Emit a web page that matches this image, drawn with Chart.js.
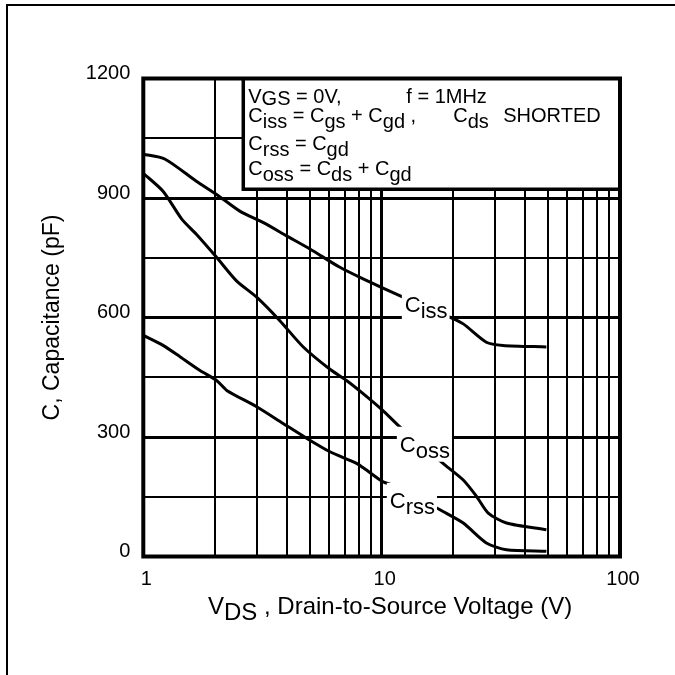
<!DOCTYPE html>
<html><head><meta charset="utf-8">
<script src="https://cdn.jsdelivr.net/npm/chart.js@4"></script>
<style>html,body{margin:0;padding:0;background:#fff}</style>
</head><body>
<canvas id="c" width="675" height="675"></canvas>
<script>
// ---- data ----
const xGridValues = [1,2,3,4,5,6,7,8,9,10,20,30,40,50,60,70,80,90,100];
const xTickLabels = [1,10,100];
const xBoldLines = [10];
const yTickLabels = [0,300,600,900,1200];
const yBoldLines = [300,600,900];
const cissV = [1.0,1.23,1.67,2.03,2.54,3.19,3.99,5.0,6.68,8.36,11.9,19.3,22.0,27.5,32.3,49.1];
const cissC = [1010,998,942,909,867,838,805,772,726,697,655,601,584,538,530,526];
const cossV = [1.0,1.21,1.45,1.67,2.03,2.46,2.99,3.74,4.69,6.07,7.12,8.36,10.1,11.9,18.4,22.0,25.0,28.0,33.4,49.1];
const cossC = [962,917,847,809,751,692,651,592,526,470,442,409,367,326,230,192,151,109,84,67];
const crssV = [1.0,1.21,1.43,1.73,2.03,2.24,2.99,3.86,4.84,6.07,7.85,8.64,10.1,11.55,18.1,22.0,27.5,33.4,49.1];
const crssC = [555,530,501,467,442,417,376,334,297,263,234,217,188,176,113,84,34,17,13];

// ---- annotations (text) ----
const FONT = '"Liberation Sans", Arial, sans-serif';
const curveLabels = [
  {segs:[['C',0],['iss',1]], v:12.51, c:613},
  {segs:[['C',0],['oss',1]], v:11.92, c:263},
  {segs:[['C',0],['rss',1]], v:10.82, c:122}
];
const legendCorner = {v:2.627, c:921.75};
const legendLines = [
  {dy:24, sub:2, segs:[['V',0],['GS',1],[' = 0V,',0],['f = 1MHz',0,158]]},
  {dy:43, sub:6, segs:[['C',0],['iss',1],[' = C',0],['gs',1],[' + C',0],['gd',1],[' ,',0],['C',0,205],['ds',1],['SHORTED',0,255]]},
  {dy:71.5, sub:6, segs:[['C',0],['rss',1],[' = C',0],['gd',1]]},
  {dy:96.5, sub:6, segs:[['C',0],['oss',1],[' = C',0],['ds',1],[' + C',0],['gd',1]]}
];
const xTitleSegs = [['V',0],['DS',1],[' , Drain-to-Source Voltage (V)',0]];

function drawRich(ctx, x, y, segs, subOff){
  let cx = x;
  for (const s of segs){
    if (s[2] != null) cx = x + s[2];
    ctx.fillText(s[0], cx, s[1] ? y + subOff : y);
    cx += ctx.measureText(s[0]).width;
  }
  return cx - x;
}
function richWidth(ctx, segs){
  let w = 0; for (const s of segs) w += ctx.measureText(s[0]).width; return w;
}

const annot = {
  id:'annot',
  afterDatasetsDraw(chart){
    const {ctx, chartArea:a, scales} = chart;
    const xs = scales.x, ys = scales.y;
    ctx.save();
    ctx.textBaseline = 'alphabetic';
    ctx.textAlign = 'left';
    // curve labels with white knock-out
    ctx.font = '22px ' + FONT;
    for (const L of curveLabels){
      const px = xs.getPixelForValue(L.v), py = ys.getPixelForValue(L.c);
      const w = richWidth(ctx, L.segs);
      ctx.fillStyle = '#fff';
      ctx.fillRect(px - 3, py - 25, w + 5, 35);
      ctx.fillStyle = '#000';
      drawRich(ctx, px, py, L.segs, 6);
    }
    // legend box
    const lx = xs.getPixelForValue(legendCorner.v), ly = ys.getPixelForValue(legendCorner.c);
    ctx.fillStyle = '#fff';
    ctx.fillRect(lx, a.top, a.right - lx, ly - a.top);
    ctx.strokeStyle = '#000';
    ctx.lineWidth = 3.5;
    ctx.beginPath(); ctx.moveTo(lx, a.top); ctx.lineTo(lx, ly); ctx.lineTo(a.right, ly); ctx.stroke();
    ctx.fillStyle = '#000';
    ctx.font = '20px ' + FONT;
    for (const line of legendLines){
      drawRich(ctx, lx + 5, a.top + line.dy, line.segs, line.sub);
    }
    // plot frame
    ctx.lineWidth = 4;
    ctx.strokeRect(a.left, a.top, a.right - a.left, a.bottom - a.top);
    // x title
    ctx.font = '24px ' + FONT;
    drawRich(ctx, 208, 614, xTitleSegs, 6);
    // outer page frame
    ctx.lineWidth = 2;
    ctx.beginPath(); ctx.moveTo(7, 675); ctx.lineTo(7, 5); ctx.lineTo(675, 5); ctx.stroke();
    ctx.restore();
  }
};

Chart.defaults.color = '#000';
Chart.defaults.font.family = FONT;

const toPts = (xv, yv) => xv.map((v, i) => ({x: v, y: yv[i]}));
const lineStyle = {borderColor:'#000', borderWidth:3, pointRadius:0, tension:0.25, fill:false};

new Chart(document.getElementById('c'), {
  type:'line',
  data:{datasets:[
    {label:'Ciss', data:toPts(cissV, cissC), ...lineStyle},
    {label:'Coss', data:toPts(cossV, cossC), ...lineStyle},
    {label:'Crss', data:toPts(crssV, crssC), ...lineStyle}
  ]},
  options:{
    responsive:false, animation:false, devicePixelRatio:1,
    layout:{padding:{left:0, top:78.5, right:55, bottom:0}},
    plugins:{legend:{display:false}, tooltip:{enabled:false}},
    scales:{
      x:{
        type:'logarithmic', min:1, max:100,
        afterBuildTicks:(s)=>{ s.ticks = xGridValues.map(v=>({value:v})); },
        afterFit:(s)=>{ s.height = 118.5; },
        ticks:{autoSkip:false, maxRotation:0, padding:11, labelOffset:3,
               font:{size:20}, color:'#000',
               callback:(v)=> xTickLabels.includes(v) ? String(v) : ''},
        grid:{drawTicks:false, color:'#000',
              lineWidth:(c)=> (c.tick && xBoldLines.includes(c.tick.value)) ? 3 : 2},
        border:{display:false}
      },
      y:{
        type:'linear', min:0, max:1200,
        ticks:{stepSize:150, autoSkip:false, padding:13, labelOffset:-5,
               font:{size:20}, color:'#000',
               callback:(v)=> yTickLabels.includes(v) ? String(v) : ''},
        afterFit:(s)=>{ s.width = 143.3; },
        grid:{drawTicks:false, color:'#000',
              lineWidth:(c)=> (c.tick && yBoldLines.includes(c.tick.value)) ? 3 : 2},
        border:{display:false},
        title:{display:true, text:'C, Capacitance (pF)', font:{size:23}, color:'#000', padding:{top:39, bottom:0}}
      }
    }
  },
  plugins:[annot]
});
</script>
</body></html>
